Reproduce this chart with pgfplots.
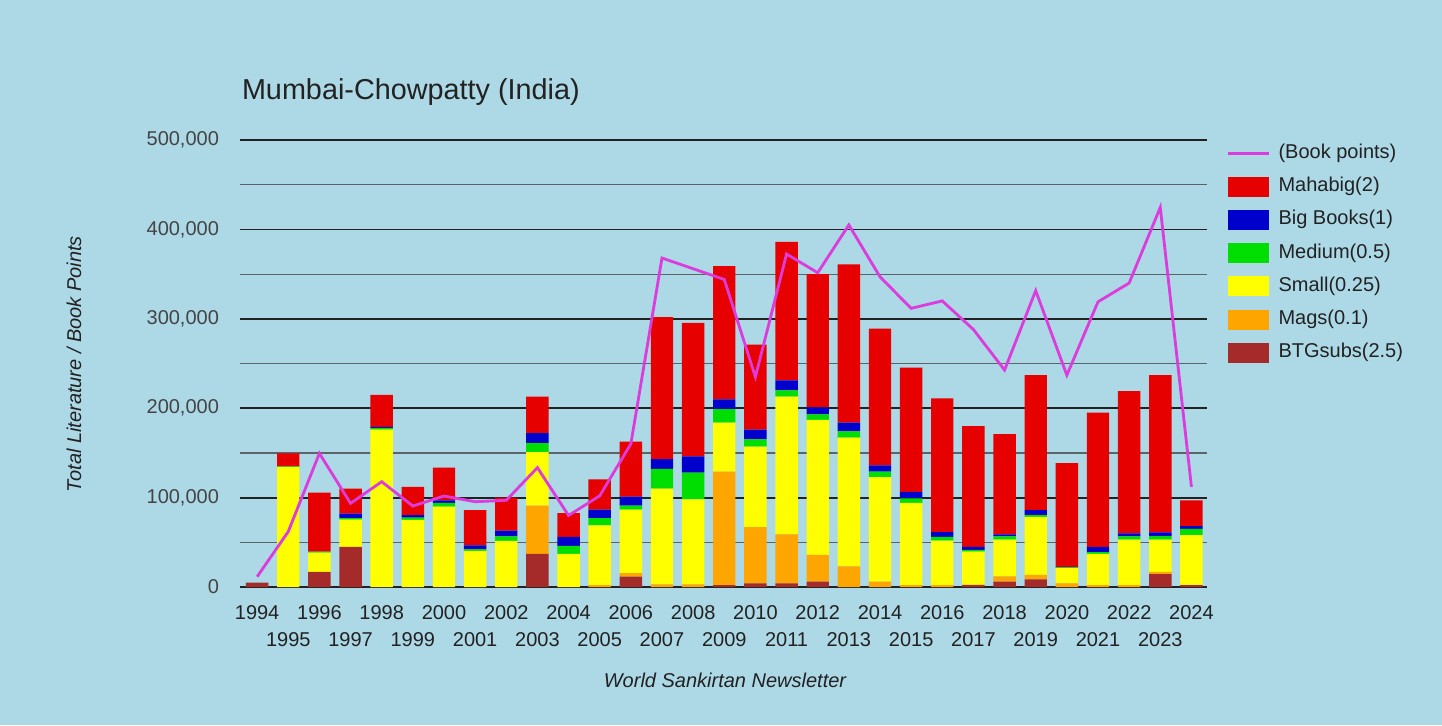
\documentclass[border=0pt]{standalone}
\usepackage{fontspec}
\setmainfont{Liberation Sans}
\usepackage{pgfplots}
\usepackage{pgfplotstable}
\pgfplotsset{compat=1.18}

\definecolor{bgblue}{HTML}{ADD8E6}
\definecolor{mahared}{HTML}{E60000}
\definecolor{bigblue}{HTML}{0000CC}
\definecolor{medgreen}{HTML}{00DD00}
\definecolor{smallyel}{HTML}{FFFF00}
\definecolor{magsorg}{HTML}{FFA500}
\definecolor{btgbrown}{HTML}{A52A2A}
\definecolor{ptsline}{HTML}{DC3CDC}
\definecolor{txtdark}{HTML}{222222}
\definecolor{txtgray}{HTML}{444444}
\definecolor{gridminor}{HTML}{5A6469}

\pgfplotsset{
  sw/.style={legend image code/.code={\fill[##1, draw=none] (0pt,-5pt) rectangle (20.5pt,5pt);}},
  lsw/.style={legend image code/.code={\draw[##1] (0pt,0pt) -- (20.5pt,0pt);}},
}

% year, BTGsubs, Mags, Small, Medium, Big, Mahabig, book points
\pgfplotstableread{
year btg   mags   small  medium big   maha   points
1994 5000  0      0      0      0     0      11500
1995 0     0      134000 1000   0     14500  62000
1996 17000 0      21500  1000   0     66000  149500
1997 45000 0      30500  1500   5000  28000  93600
1998 0     0      176000 2000   1000  36000  117800
1999 0     0      75000  2500   3000  31500  90600
2000 0     0      90000  4000   3000  36500  101800
2001 0     0      40500  1500   4500  39500  95400
2002 0     0      51500  5000   6500  37000  97000
2003 37000 54000  60000  10000  11000 41000  133500
2004 0     0      37000  9000   10000 26500  80000
2005 0     2000   67000  8000   9500  34000  102000
2006 11500 4000   71000  4500   10000 61500  160000
2007 0     3000   107000 22000  11000 159000 368000
2008 0     3000   95000  30000  18000 149500 356000
2009 2000  127000 55000  15000  11000 149000 344000
2010 4000  63000  90000  8000   11000 95000  235000
2011 4000  55000  154000 7000   11000 155000 372500
2012 6000  30000  151000 6000   8000  149000 351500
2013 0     23000  144000 7000   10000 177000 405000
2014 0     6000   117000 6000   7000  153000 347000
2015 0     2000   92000  5000   7500  139000 311700
2016 0     2000   50000  4000   5500  149500 320000
2017 2500  0      37000  2000   3500  135000 288000
2018 6000  6000   41000  3500   2500  112000 242700
2019 8500  5000   65000  2000   5500  151000 331500
2020 0     4000   17000  1000   500   116000 237000
2021 0     2000   35000  2000   6000  150000 319000
2022 0     2000   51000  3500   3500  159000 340000
2023 14500 2500   36000  4000   4000  176000 424600
2024 2000  0      56000  7000   3000  29000  112000
}\lit

\begin{document}
\begin{tikzpicture}
\fill[bgblue] (0pt,0pt) rectangle (721pt,362.5pt);

\begin{axis}[
  at={(120pt,69pt)}, anchor=south west,
  width=483.5pt, height=223.5pt, scale only axis,
  xmin=1993.45, xmax=2024.5,
  ymin=0, ymax=500000,
  ybar stacked, bar width=0.72,
  axis line style={draw=none},
  major tick length=0pt, minor tick length=0pt,
  xtick={1994,1996,...,2024},
  extra x ticks={1995,1997,...,2023},
  extra x tick style={xticklabel style={yshift=-13.3pt}},
  xticklabel style={/pgf/number format/1000 sep={}, yshift=-5.7pt, text=txtdark},
  ytick={0,100000,...,500000},
  minor y tick num=1,
  scaled y ticks=false,
  yticklabel style={/pgf/number format/fixed, /pgf/number format/1000 sep={,}, xshift=-7pt, text=txtgray},
  /pgf/number format/assume math mode=true,
  tick label style={font=\fontsize{10}{12}\selectfont},
  ymajorgrids, yminorgrids,
  major grid style={draw=txtdark, line width=0.9pt},
  minor grid style={draw=gridminor, line width=0.6pt},
]
\addplot[fill=btgbrown, draw=none] table[x=year, y=btg] \lit;
\addplot[fill=magsorg, draw=none] table[x=year, y=mags] \lit;
\addplot[fill=smallyel, draw=none] table[x=year, y=small] \lit;
\addplot[fill=medgreen, draw=none] table[x=year, y=medium] \lit;
\addplot[fill=bigblue, draw=none] table[x=year, y=big] \lit;
\addplot[fill=mahared, draw=none] table[x=year, y=maha] \lit;
\end{axis}

\begin{axis}[
  at={(120pt,69pt)}, anchor=south west,
  width=483.5pt, height=223.5pt, scale only axis,
  xmin=1993.45, xmax=2024.5,
  ymin=0, ymax=500000,
  hide axis,
  legend style={at={(1.02,0.993)}, anchor=north west, draw=none, fill=none,
    font=\fontsize{10}{12}\selectfont, text=txtdark, inner sep=0pt,
    row sep=6.6pt, column sep=4pt,
    nodes={inner sep=0pt, text height=7.5pt, text depth=2.5pt}},
  legend cell align=left,
]
\addplot[lsw, draw=ptsline, line width=1.4pt, mark=none] table[x=year, y=points] \lit;
\addlegendentry{(Book points)}
\addlegendimage{sw, fill=mahared}
\addlegendentry{Mahabig(2)}
\addlegendimage{sw, fill=bigblue}
\addlegendentry{Big Books(1)}
\addlegendimage{sw, fill=medgreen}
\addlegendentry{Medium(0.5)}
\addlegendimage{sw, fill=smallyel}
\addlegendentry{Small(0.25)}
\addlegendimage{sw, fill=magsorg}
\addlegendentry{Mags(0.1)}
\addlegendimage{sw, fill=btgbrown}
\addlegendentry{BTGsubs(2.5)}
\end{axis}

\node[anchor=base west, inner sep=0pt, text=txtdark, font=\fontsize{14.4}{17}\selectfont]
  at (120.8pt,312.9pt) {Mumbai-Chowpatty (India)};
\node[inner sep=0pt, text=txtdark, font=\fontsize{10}{12}\selectfont\itshape]
  at (362.5pt,22.5pt) {World Sankirtan Newsletter};
\node[inner sep=0pt, rotate=90, text=txtdark, font=\fontsize{10}{12}\selectfont\itshape]
  at (37pt,180.5pt) {Total Literature / Book Points};
\end{tikzpicture}
\end{document}
